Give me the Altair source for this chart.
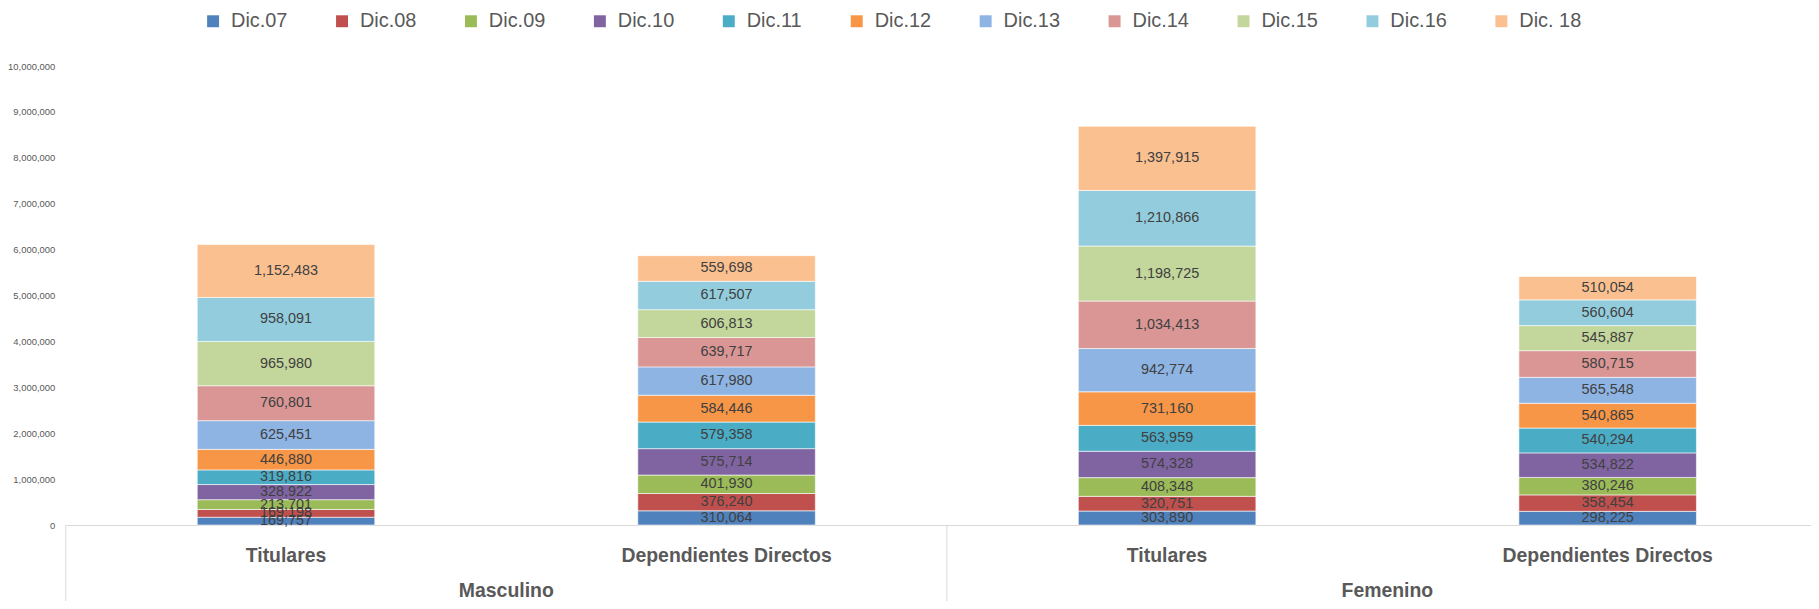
import altair as alt
import pandas as pd

series = ["Dic.07", "Dic.08", "Dic.09", "Dic.10", "Dic.11", "Dic.12",
          "Dic.13", "Dic.14", "Dic.15", "Dic.16", "Dic. 18"]
colors = ["#4F81BD", "#C0504D", "#9BBB59", "#8064A2", "#4BACC6", "#F79646",
          "#8EB4E3", "#D99694", "#C3D69B", "#93CDDD", "#FAC090"]

groups = ["Masculino", "Femenino"]
subcats = ["Titulares", "Dependientes Directos"]

masc_titulares = [169757, 169198, 213701, 328922, 319816, 446880,
                  625451, 760801, 965980, 958091, 1152483]
masc_dependientes = [310064, 376240, 401930, 575714, 579358, 584446,
                     617980, 639717, 606813, 617507, 559698]
fem_titulares = [303890, 320751, 408348, 574328, 563959, 731160,
                 942774, 1034413, 1198725, 1210866, 1397915]
fem_dependientes = [298225, 358454, 380246, 534822, 540294, 540865,
                    565548, 580715, 545887, 560604, 510054]

y_ticks = [0, 1000000, 2000000, 3000000, 4000000, 5000000,
           6000000, 7000000, 8000000, 9000000, 10000000]

values_by_cat = {
    ("Masculino", "Titulares"): masc_titulares,
    ("Masculino", "Dependientes Directos"): masc_dependientes,
    ("Femenino", "Titulares"): fem_titulares,
    ("Femenino", "Dependientes Directos"): fem_dependientes,
}

cats = [f"{g}|{s}" for g in groups for s in subcats]
rows = []
for (g, s), vals in values_by_cat.items():
    for i, (name, v) in enumerate(zip(series, vals)):
        rows.append({"cat": f"{g}|{s}", "series": name, "idx": i, "value": v})
df = pd.DataFrame(rows)

W, H = 1753, 461
XR = 1770  # the category axis runs slightly past the visible edge, as in the reference
FONT = "Liberation Sans"
GRAY = "#595959"

xscale = alt.Scale(domain=cats, range=[0, XR], paddingInner=0, paddingOuter=0)
yscale = alt.Scale(domain=[0, 10000000], nice=False)

base = alt.Chart(df)

bars = base.mark_bar(width=alt.RelativeBandSize(0.403), stroke="white", strokeWidth=0.6).encode(
    x=alt.X("cat:N", scale=xscale, title=None,
            axis=alt.Axis(labelExpr="split(datum.label, '|')[1]", labelAngle=0,
                          labelFontSize=19.5, labelFontWeight="bold", labelColor=GRAY,
                          labelFont=FONT, labelBaseline="middle", labelPadding=31,
                          ticks=False, tickSize=0, domainColor="#D9D9D9", domainWidth=1,
                          grid=False, labelLimit=400)),
    y=alt.Y("value:Q", stack="zero", scale=yscale, title=None,
            axis=alt.Axis(values=y_ticks, format=",d", grid=False, domain=False,
                          ticks=False, labelFontSize=9.5, labelColor=GRAY, labelFont=FONT,
                          labelPadding=11)),
    color=alt.Color("series:N", scale=alt.Scale(domain=series, range=colors),
                    legend=alt.Legend(title=None, orient="none", direction="horizontal",
                                      columns=11, legendX=138, legendY=-55,
                                      symbolType="square", symbolSize=144,
                                      symbolStrokeWidth=0, labelFontSize=20,
                                      labelColor=GRAY, labelFont=FONT, labelOffset=8,
                                      columnPadding=44.5, padding=0)),
    order=alt.Order("idx:Q", sort="ascending"),
)

labels = base.transform_window(
    cum="sum(value)", groupby=["cat"], sort=[alt.SortField("idx")], frame=[None, 0]
).transform_calculate(
    mid="datum.cum - datum.value / 2"
).mark_text(fontSize=14.5, color="#404040", font=FONT, baseline="middle").encode(
    x=alt.X("cat:N", scale=xscale),
    y=alt.Y("mid:Q", scale=yscale),
    text=alt.Text("value:Q", format=",d"),
)

group_df = pd.DataFrame({"cat": [f"{g}|Dependientes Directos" for g in groups],
                         "group": groups})
group_labels = alt.Chart(group_df).mark_text(
    fontSize=19.5, fontWeight="bold", color=GRAY, font=FONT, baseline="middle"
).encode(
    x=alt.X("cat:N", scale=xscale, bandPosition=0),
    y=alt.value(H + 66),
    text="group:N",
)

sep_df = pd.DataFrame({"cat": [f"{g}|Titulares" for g in groups]})
separators = alt.Chart(sep_df).mark_rule(color="#D9D9D9", strokeWidth=1).encode(
    x=alt.X("cat:N", scale=xscale, bandPosition=0),
    y=alt.value(H),
    y2=alt.value(H + 80),
)

chart = alt.layer(bars, labels, separators, group_labels).properties(
    width=W, height=H,
    autosize=alt.AutoSizeParams(type="none"),
    padding={"left": 58, "top": 57, "right": 0, "bottom": 75},
    background="white",
).configure_view(stroke=None)

chart.save("out.html", embed_options={"renderer": "svg", "actions": False})
